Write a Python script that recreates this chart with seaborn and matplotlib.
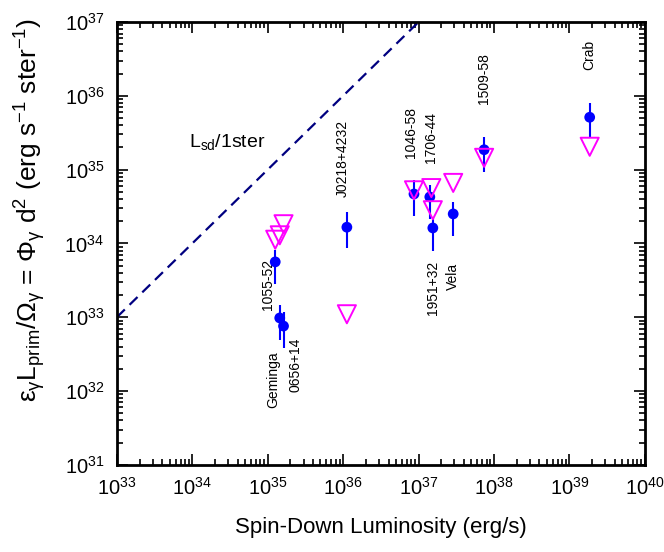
import numpy as np
import pandas as pd
import matplotlib
matplotlib.use("Agg")
import matplotlib.pyplot as plt
import seaborn as sns
from matplotlib.ticker import LogLocator, NullFormatter

# pulsar names and measured values (log10)
names = ["1055-52", "Geminga", "0656+14", "J0218+4232", "1046-58",
         "1706-44", "1951+32", "Vela", "1509-58", "Crab"]
log_edot = [35.10, 35.16, 35.21, 36.05, 36.94, 37.15, 37.19, 37.46, 37.87, 39.27]
log_lum = [33.75, 32.99, 32.88, 34.22, 34.67, 34.63, 34.21, 34.40, 35.27, 35.71]
log_lum_hi = [33.91, 33.17, 33.07, 34.43, 34.86, 34.79, 34.36, 34.56, 35.44, 35.90]
log_lum_lo = [33.45, 32.69, 32.58, 33.94, 34.37, 34.33, 33.90, 34.10, 34.97, 35.43]

# upper limits
lim_edot = [35.10, 35.16, 35.21, 36.05, 36.94, 37.17, 37.19, 37.46, 37.87, 39.27]
lim_lum = [34.05, 34.11, 34.26, 33.04, 34.72, 34.75, 34.45, 34.82, 35.16, 35.31]

# label positions (log10 x, log10 y)
label_x = [35.0, 35.08, 35.37, 36.0, 36.9, 37.16, 37.19, 37.46, 37.87, 39.27]
label_y = [33.45, 32.15, 32.35, 35.15, 35.50, 35.43, 33.40, 33.55, 36.23, 36.55]

line_edot = [33, 37]

df = pd.DataFrame({
    "edot": 10.0 ** np.array(log_edot),
    "lum": 10.0 ** np.array(log_lum),
})
lim = pd.DataFrame({
    "edot": 10.0 ** np.array(lim_edot),
    "lum": 10.0 ** np.array(lim_lum),
})
line = pd.DataFrame({"x": 10.0 ** np.array(line_edot, dtype=float)})
line["y"] = line["x"]

sns.set_style("ticks")
plt.rcParams["font.family"] = ["Liberation Sans", "DejaVu Sans"]
plt.rcParams["mathtext.fontset"] = "custom"
plt.rcParams["mathtext.rm"] = "Liberation Sans"
plt.rcParams["mathtext.it"] = "Liberation Sans"
plt.rcParams["text.color"] = "black"
plt.rcParams["axes.labelcolor"] = "black"

fig = plt.figure(figsize=(6.64, 5.52), dpi=100)
ax = fig.add_axes([0.176, 0.158, 0.795, 0.802])

sns.lineplot(data=line, x="x", y="y", ax=ax, color="#000080",
             linestyle=(0, (5, 3)), linewidth=1.6)

ax.vlines(df["edot"], 10.0 ** np.array(log_lum_lo), 10.0 ** np.array(log_lum_hi),
          color="#0000ff", linewidth=1.5, zorder=3)
sns.scatterplot(data=df, x="edot", y="lum", ax=ax, color="#0000ff",
                s=60, edgecolor="none", zorder=4)
sns.scatterplot(data=lim, x="edot", y="lum", ax=ax, marker="v", s=170,
                facecolor="none", edgecolor="#ff00ff", linewidth=1.4, zorder=5)

for n, lx, ly in zip(names, label_x, label_y):
    ax.text(10 ** lx, 10 ** ly, n, rotation=90, ha="center", va="center",
            fontsize=10)

ax.text(10 ** 33.95, 10 ** 35.37, r"L$_{\rm sd}$/1ster", fontsize=14,
        ha="left", va="center")

ax.set_xscale("log")
ax.set_yscale("log")
ax.set_xlim(1e33, 1e40)
ax.set_ylim(1e31, 1e37)
ax.xaxis.set_major_locator(LogLocator(base=10, numticks=20))
ax.yaxis.set_major_locator(LogLocator(base=10, numticks=20))
ax.xaxis.set_minor_locator(LogLocator(base=10, subs=np.arange(2, 10), numticks=100))
ax.yaxis.set_minor_locator(LogLocator(base=10, subs=np.arange(2, 10), numticks=100))
ax.xaxis.set_minor_formatter(NullFormatter())
ax.yaxis.set_minor_formatter(NullFormatter())

ax.tick_params(which="both", direction="in", top=True, right=True,
               labelsize=14.5, width=1.2, color="black", labelcolor="black")
ax.tick_params(which="major", length=8, pad=9)
ax.tick_params(which="minor", length=4)
for s in ax.spines.values():
    s.set_linewidth(2)
    s.set_color("black")

ax.set_xlabel("Spin-Down Luminosity (erg/s)", fontsize=16, labelpad=13)
ax.set_ylabel(r"$\varepsilon_\gamma$L$_{\rm prim}$/$\Omega_\gamma$ = $\Phi_\gamma$ d$^2$ (erg s$^{-1}$ ster$^{-1}$)",
              fontsize=19)
ax.yaxis.set_label_coords(-0.13, 0.575)

fig.savefig("out.png", dpi=100)
